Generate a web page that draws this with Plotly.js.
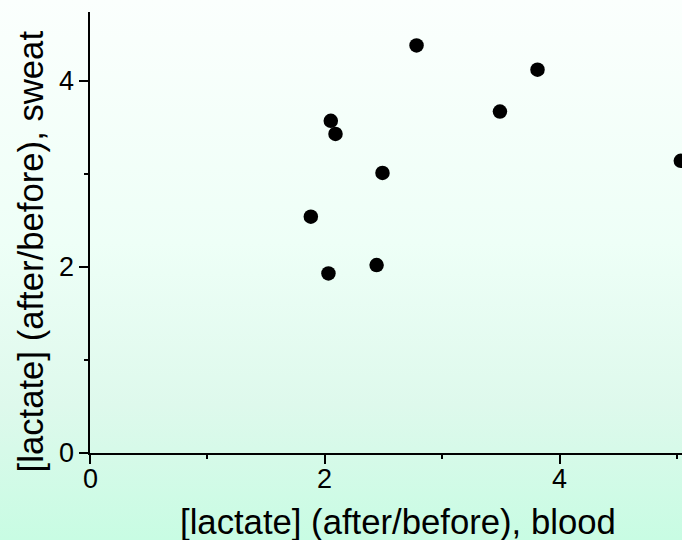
<!DOCTYPE html>
<html>
<head>
<meta charset="utf-8">
<script src="https://cdn.plot.ly/plotly-3.0.1.min.js"></script>
<style>
  html, body { margin: 0; padding: 0; }
  body { width: 682px; height: 540px; background: linear-gradient(to bottom, #fbfffd 0%, #eefff7 45%, #def9ec 75%, #c8fce3 100%); }
  #chart { width: 682px; height: 540px; }
</style>
</head>
<body>
<div id="chart"></div>
<script>
const bloodRatio = [2.78, 3.81, 3.49, 2.05, 2.09, 2.49, 1.88, 2.44, 2.03, 5.03];
const sweatRatio = [4.38, 4.12, 3.67, 3.57, 3.43, 3.01, 2.54, 2.02, 1.93, 3.14];
const xTitle = '[lactate] (after/before), blood';
const yTitle = '[lactate] (after/before), sweat';
const tickVals = [0, 2, 4];
const tickLabels = ['0', '2', '4'];

const fontFam = '"Liberation Sans", Arial, sans-serif';
const tickFont = { family: fontFam, size: 27, color: '#000' };
const titleFont = { family: fontFam, size: 34.7, color: '#000' };

const trace = {
  x: bloodRatio,
  y: sweatRatio,
  mode: 'markers',
  type: 'scatter',
  marker: { color: '#000000', size: 14.5 },
  cliponaxis: true,
  hoverinfo: 'none'
};

function makeAxis(range) {
  return {
    range: range,
    showgrid: false,
    zeroline: false,
    showline: true,
    linecolor: '#000',
    linewidth: 2,
    ticks: 'outside',
    ticklen: 9,
    tickwidth: 2,
    tickcolor: '#000',
    tickmode: 'array',
    tickvals: tickVals,
    showticklabels: false,
    minor: { dtick: 1, tick0: 1, ticks: 'outside', ticklen: 4, tickwidth: 2, tickcolor: '#000' }
  };
}

const annotations = [];
tickVals.forEach((v, i) => {
  annotations.push({ text: tickLabels[i], xref: 'x', yref: 'paper', x: v, y: 0, yshift: -26,
    xanchor: 'center', yanchor: 'middle', showarrow: false, font: tickFont });
  annotations.push({ text: tickLabels[i], xref: 'paper', yref: 'y', x: 0, y: v, xshift: -14,
    xanchor: 'right', yanchor: 'middle', showarrow: false, font: tickFont });
});
annotations.push({ text: xTitle, xref: 'paper', yref: 'paper', x: 0.52, y: -0.157, xanchor: 'center', yanchor: 'middle',
  showarrow: false, font: titleFont });
annotations.push({ text: yTitle, xref: 'paper', yref: 'paper', x: -0.1004, y: 0.456, xanchor: 'center', yanchor: 'middle',
  textangle: -90, showarrow: false, font: titleFont });

const layout = {
  width: 682,
  height: 540,
  margin: { l: 90, r: 0, t: 12, b: 87 },
  font: { family: fontFam, size: 27, color: '#000' },
  paper_bgcolor: 'rgba(0,0,0,0)',
  plot_bgcolor: 'rgba(0,0,0,0)',
  showlegend: false,
  xaxis: makeAxis([0, 5.04]),
  yaxis: makeAxis([0, 4.74]),
  annotations: annotations
};

Plotly.newPlot('chart', [trace], layout, { displayModeBar: false, staticPlot: true });
</script>
</body>
</html>
